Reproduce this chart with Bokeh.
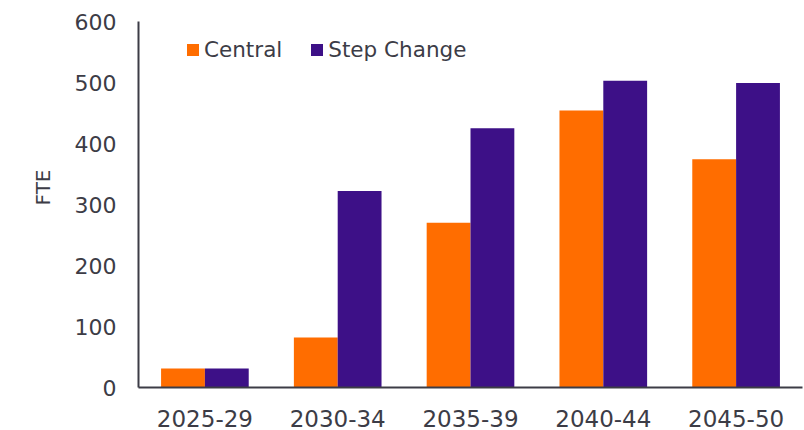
from bokeh.plotting import figure
from bokeh.models import ColumnDataSource, Legend, LegendItem, Range1d, FactorRange, Title
from bokeh.transform import dodge
from bokeh.embed import file_html
from bokeh.resources import INLINE

categories = ["2025-29", "2030-34", "2035-39", "2040-44", "2045-50"]
central = [31, 82, 270, 454, 374]
step_change = [31, 322, 425, 503, 499]
y_ticks = [0, 100, 200, 300, 400, 500, 600]
y_title = "FTE"

ORANGE = "#FF6D00"
PURPLE = "#3D1087"
TEXT = "#3c3c46"
FONT = "DejaVu Sans"

source = ColumnDataSource(data=dict(cat=categories, central=central, step=step_change))

p = figure(
    x_range=FactorRange(*categories, range_padding=0),
    y_range=Range1d(0, 600),
    width=804, height=430,
    output_backend="svg", toolbar_location=None,
    min_border_left=138, min_border_right=2, min_border_top=21, min_border_bottom=43,
)
p.outline_line_color = None
p.xgrid.grid_line_color = None
p.ygrid.grid_line_color = None
p.background_fill_color = "white"
p.border_fill_color = "white"

bw = 0.33
r1 = p.vbar(x=dodge("cat", -bw / 2, range=p.x_range), top="central", width=bw,
            source=source, fill_color=ORANGE, line_color=None)
r2 = p.vbar(x=dodge("cat", bw / 2, range=p.x_range), top="step", width=bw,
            source=source, fill_color=PURPLE, line_color=None)

for ax in (p.xaxis[0], p.yaxis[0]):
    ax.axis_line_color = TEXT
    ax.axis_line_width = 2
    ax.major_tick_line_color = None
    ax.minor_tick_line_color = None
    ax.major_tick_out = 0
    ax.major_tick_in = 0
    ax.major_label_text_font = FONT
    ax.major_label_text_color = TEXT

p.xaxis.major_label_text_font_size = "23px"
p.xaxis.major_label_standoff = 22
p.xaxis.major_label_text_line_height = 0.8
p.yaxis.major_label_text_font_size = "22px"
p.yaxis.major_label_standoff = 22
p.yaxis.ticker = y_ticks

# y-axis title, a little above the vertical centre as in the original
p.add_layout(Title(
    text=y_title, align="left", offset=182, standoff=34,
    text_font=FONT, text_font_size="20px", text_font_style="normal",
    text_color=TEXT,
), "left")

legend = Legend(
    items=[LegendItem(label="Central", renderers=[r1]),
           LegendItem(label="Step Change", renderers=[r2])],
    orientation="horizontal",
    location=(47, 325),
    padding=0, margin=0, spacing=27,
    glyph_width=15, glyph_height=15, label_standoff=4,
    label_text_font=FONT, label_text_font_size="21.5px", label_text_color=TEXT,
    border_line_color=None, background_fill_alpha=0,
)
p.add_layout(legend)

open("out.html", "w").write(file_html(p, INLINE))
